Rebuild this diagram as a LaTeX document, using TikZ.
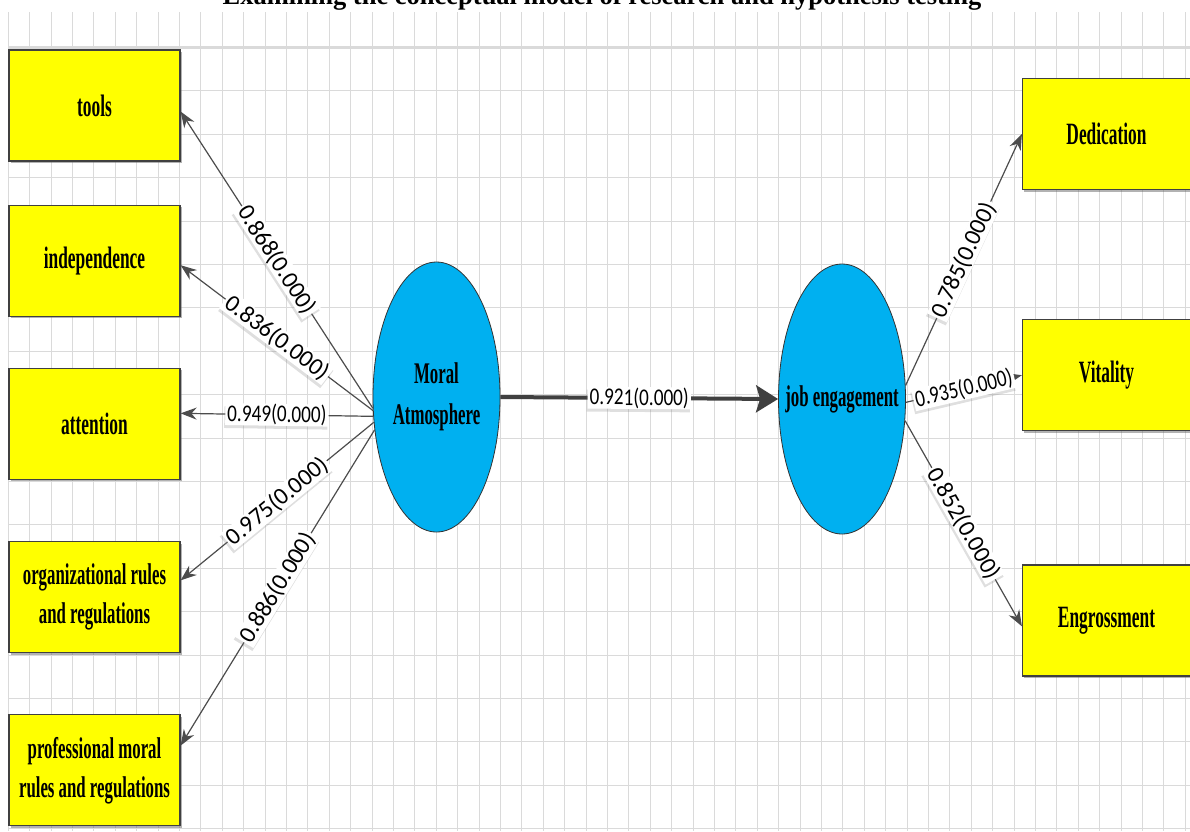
\documentclass[tikz,border=0pt]{standalone}
\usepackage{fontspec}
\setmainfont{Liberation Serif}
\newfontfamily\boxfont[FakeStretch=0.56]{Liberation Serif}
\newfontfamily\coefnarrow[FakeStretch=0.8]{Carlito}
\newfontfamily\coefwide{Carlito}
\usetikzlibrary{arrows.meta, positioning, shapes.geometric, shadows}

\definecolor{boxyellow}{HTML}{FFFF00}
\definecolor{latentblue}{HTML}{00B0F0}
\definecolor{gridgray}{HTML}{DADADA}

\begin{document}
\begin{tikzpicture}[x=1pt, y=-1pt,
    indicator/.style={draw=black!75, line width=1.2pt, fill=boxyellow,
                      minimum width=171pt, minimum height=111pt, align=center,
                      font=\boxfont\bfseries\fontsize{31}{39}\selectfont,
                      drop shadow={shadow xshift=1.5pt, shadow yshift=-2pt, opacity=.5, fill=black!60}},
    twoline/.style={font=\boxfont\bfseries\fontsize{30}{39}\selectfont},
    latent/.style={ellipse, draw=black!80, line width=0.8pt, fill=latentblue,
                   minimum width=127pt, minimum height=270pt, inner xsep=-20pt, inner ysep=0pt,
                   align=center, font=\boxfont\bfseries\fontsize{30}{41}\selectfont},
    loading/.style={-{Stealth[length=16pt, width=12pt]}, line width=1.2pt, draw=black!70},
    structural/.style={-{Stealth[length=22pt, width=27pt, inset=4pt]}, line width=4pt, draw=black!75},
    coef/.style={sloped, fill=white, inner xsep=2pt, inner ysep=0.5pt,
                 font=#1\fontsize{24}{24}\selectfont,
                 drop shadow={shadow xshift=-1pt, shadow yshift=-3pt, opacity=.25, fill=black!50}},
    coef/.default=\coefnarrow,
    gridline/.style={draw=gridgray, line width=1pt}
  ]
  \useasboundingbox (0,0) rectangle (1190,831);

  % background grid
  \foreach \i in {0,...,55}
    \draw[gridline] (8.3+21.4*\i,12) -- (8.3+21.4*\i,831);
  \foreach \j in {0,...,18}
    \draw[gridline] (8,47.5+43.4*\j) -- (1190,47.5+43.4*\j);
  \draw[gridline, line width=3pt] (8,47.5) -- (1190,47.5);

  % Title (cut at the top)
  \node[font=\bfseries\fontsize{26.5}{26.5}\selectfont, anchor=base] (title) at (602,4)
    {Examining the conceptual model of research and hypothesis testing};

  % Moral atmosphere indicators
  \node[indicator] (tools) at (94.5,105.5) {tools};
  \node[indicator, below=43pt of tools] (indep) {independence};
  \node[indicator, below=51pt of indep] (attn) {attention};
  \node[indicator, twoline, below=61pt of attn] (orgrules) {organizational rules\\and regulations};
  \node[indicator, twoline, below=61pt of orgrules] (profrules) {professional moral\\rules and regulations};

  % Latent variables
  \node[latent] (moral) at (436.5,397) {Moral\\Atmosphere};
  \node[latent] (engage) at (842,399) {job engagement};

  % Job engagement indicators
  \node[indicator, minimum width=168pt] (dedic) at (1106.5,134) {Dedication};
  \node[indicator, minimum width=168pt, below=129pt of dedic] (vital) {Vitality};
  \node[indicator, minimum width=168pt, below=133pt of vital] (engross) {Engrossment};

  % Loadings
  \draw[loading] (moral.190.8) -- node[coef=\coefwide] {0.868(0.000)} (tools.-4.3);
  \draw[loading] (moral.192.6) -- node[coef=\coefwide] {0.836(0.000)} (indep.-3);
  \draw[loading] (moral.197.7) -- node[coef] {0.949(0.000)} (attn.7);
  \draw[loading] (moral.202) -- node[coef=\coefwide] {0.975(0.000)} (orgrules.11.6);
  \draw[loading] (moral.208) -- node[coef=\coefwide] {0.886(0.000)} (profrules.16);

  \draw[structural] (moral.east) -- node[coef] {0.921(0.000)} (engage.west);

  \draw[loading] (engage.12.5) -- node[coef=\coefwide] {0.785(0.000)} (dedic.180);
  \draw[loading] (engage.357) -- node[coef] {0.935(0.000)} (vital.180);
  \draw[loading] (engage.341) -- node[coef=\coefwide] {0.852(0.000)} (engross.184);
\end{tikzpicture}
\end{document}
